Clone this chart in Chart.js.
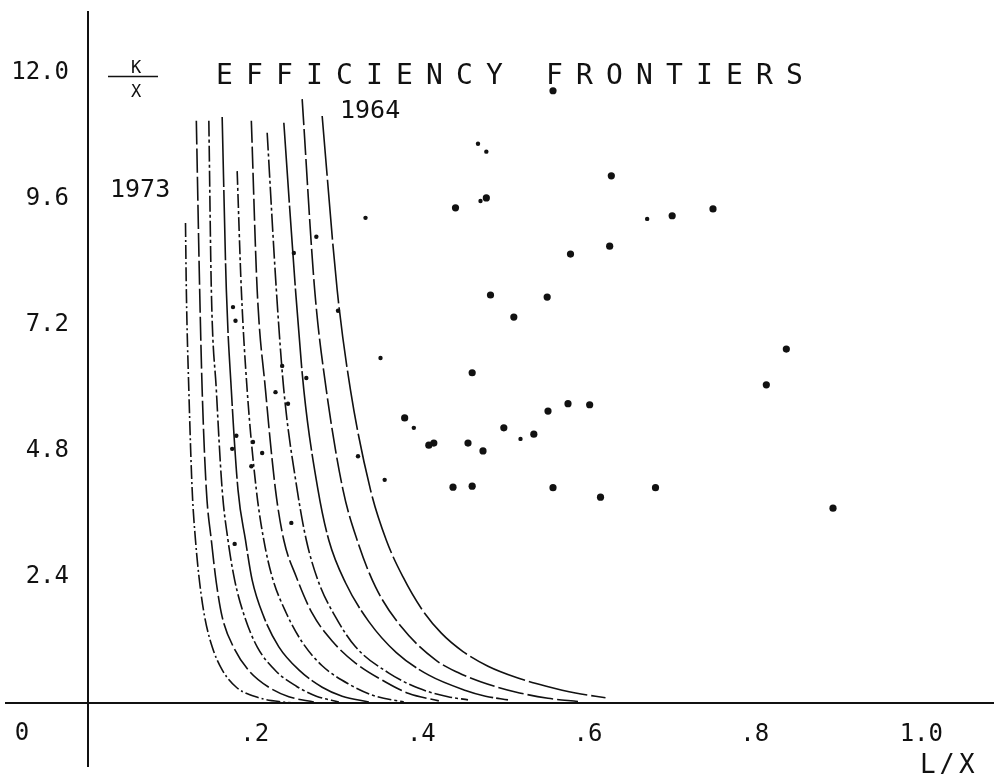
<!DOCTYPE html>
<html>
<head>
<meta charset="utf-8">
<script src="https://cdn.jsdelivr.net/npm/chart.js@4.4.1/dist/chart.umd.min.js"></script>
<style>
  html, body { margin: 0; padding: 0; background: #fff; }
  canvas { display: block; }
</style>
</head>
<body>
<canvas id="frontiers" width="997" height="774"></canvas>
<script>
// ejes
const xTicks = [0.2, 0.4, 0.6, 0.8, 1.0];
const xTickLabels = ['.2', '.4', '.6', '.8', '1.0'];
const yTicks = [2.4, 4.8, 7.2, 9.6, 12.0];
const yTickLabels = ['2.4', '4.8', '7.2', '9.6', '12.0'];

// fronteras de eficiencia (L/X, K/X), de afuera (1964) hacia adentro (1973)
const years = [1964, 1965, 1966, 1967, 1968, 1969, 1970, 1971, 1972, 1973];
const f1964 = [[0.281,11.18],[0.299,7.87],[0.315,5.96],[0.339,4.06],[0.358,3.10],[0.378,2.40],[0.400,1.80],[0.424,1.33],[0.450,0.98],[0.480,0.70],[0.515,0.48],[0.550,0.32],[0.585,0.19],[0.621,0.10]];
const f1965 = [[0.257,11.50],[0.272,7.87],[0.286,5.96],[0.306,4.06],[0.323,3.10],[0.345,2.21],[0.376,1.45],[0.417,0.82],[0.444,0.58],[0.472,0.40],[0.513,0.21],[0.552,0.09],[0.588,0.03]];
const f1966 = [[0.235,11.05],[0.249,7.87],[0.259,5.96],[0.276,4.06],[0.289,3.10],[0.309,2.29],[0.337,1.55],[0.370,0.96],[0.409,0.53],[0.453,0.24],[0.477,0.13],[0.504,0.06]];
const f1967 = [[0.215,10.86],[0.226,7.87],[0.235,5.96],[0.251,4.06],[0.262,3.10],[0.277,2.29],[0.297,1.64],[0.321,1.07],[0.361,0.57],[0.397,0.28],[0.432,0.12],[0.456,0.06]];
const f1968 = [[0.196,11.09],[0.203,7.87],[0.213,5.96],[0.225,4.06],[0.235,3.10],[0.250,2.40],[0.269,1.71],[0.293,1.18],[0.321,0.76],[0.357,0.40],[0.385,0.18],[0.421,0.04]];
const f1969 = [[0.179,10.13],[0.184,7.87],[0.191,5.96],[0.202,4.06],[0.211,3.10],[0.221,2.40],[0.238,1.71],[0.257,1.16],[0.281,0.71],[0.313,0.36],[0.345,0.13],[0.379,0.02]];
const f1970 = [[0.161,11.16],[0.166,7.87],[0.172,5.96],[0.180,4.06],[0.189,3.10],[0.197,2.34],[0.211,1.64],[0.229,1.07],[0.253,0.63],[0.281,0.30],[0.305,0.13],[0.337,0.02]];
const f1971 = [[0.145,11.09],[0.148,7.87],[0.154,5.96],[0.161,4.06],[0.168,3.10],[0.176,2.34],[0.188,1.64],[0.203,1.07],[0.226,0.60],[0.250,0.32],[0.274,0.13],[0.301,0.02]];
const f1972 = [[0.130,11.09],[0.134,7.87],[0.137,5.96],[0.142,4.06],[0.148,3.10],[0.154,2.29],[0.161,1.64],[0.176,1.02],[0.194,0.60],[0.217,0.30],[0.241,0.12],[0.271,0.02]];
const f1973 = [[0.117,9.14],[0.118,7.87],[0.121,5.96],[0.125,4.06],[0.129,3.10],[0.134,2.29],[0.140,1.64],[0.149,1.07],[0.161,0.63],[0.178,0.30],[0.205,0.10],[0.233,0.02],[0.250,0.0]];
const frontiers = [f1964, f1965, f1966, f1967, f1968, f1969, f1970, f1971, f1972, f1973];

// observaciones: puntos grandes y marcas pequeñas
const obsBig = [[0.558,11.66],[0.628,10.04],[0.441,9.43],[0.478,9.62],[0.626,8.70],[0.579,8.55],[0.750,9.41],[0.701,9.28],
  [0.483,7.77],[0.551,7.73],[0.511,7.35],[0.838,6.74],[0.814,6.06],[0.461,6.29],[0.552,5.56],[0.576,5.70],[0.602,5.68],
  [0.499,5.24],[0.535,5.12],[0.380,5.43],[0.415,4.95],[0.409,4.91],[0.456,4.95],[0.474,4.80],[0.438,4.11],[0.461,4.13],
  [0.558,4.10],[0.615,3.92],[0.681,4.10],[0.894,3.71]];
const obsSmall = [[0.468,10.65],[0.478,10.50],[0.471,9.56],[0.333,9.24],[0.274,8.88],[0.671,9.22],[0.300,7.47],[0.247,8.57],
  [0.351,6.57],[0.391,5.24],[0.519,5.03],[0.324,4.70],[0.356,4.25],[0.174,7.54],[0.177,7.28],[0.233,6.42],[0.262,6.19],
  [0.225,5.92],[0.240,5.70],[0.178,5.09],[0.173,4.84],[0.198,4.97],[0.209,4.76],[0.196,4.51],[0.244,3.43],[0.176,3.03]];

// trazos del plotter: largos arriba, más cortados en la cola
const dashes = [[60, 4], [26, 4], [80, 3], [18, 3, 3, 3], [22, 4], [14, 3, 3, 3], [70, 3], [16, 3, 3, 3], [24, 4], [14, 3, 2, 3]];
const mono = 'DejaVu Sans Mono';
const ink = '#111';

const toPts = arr => arr.map(p => ({ x: p[0], y: p[1] }));

const datasets = frontiers.map((f, i) => ({
    type: 'line',
    label: String(years[i]),
    data: toPts(f),
    borderColor: ink,
    borderWidth: 1.6,
    borderDash: dashes[i],
    pointRadius: 0,
    fill: false,
    cubicInterpolationMode: 'monotone'
}));
datasets.push({ label: 'obs', data: toPts(obsBig), backgroundColor: ink, borderWidth: 0, pointRadius: 3.6 });
datasets.push({ label: 'obs2', data: toPts(obsSmall), backgroundColor: ink, borderWidth: 0, pointRadius: 2.2 });

// textos y prolongación de los ejes
const decor = {
    id: 'decor',
    afterDraw(chart) {
        const c = chart.ctx;
        const x0 = chart.scales.x.getPixelForValue(0);
        const y0 = chart.scales.y.getPixelForValue(0);
        c.save();
        c.strokeStyle = ink;
        c.lineWidth = 2;
        c.beginPath();
        c.moveTo(5, y0); c.lineTo(x0, y0);
        c.moveTo(x0, y0); c.lineTo(x0, 767);
        c.stroke();

        c.fillStyle = ink;
        c.textBaseline = 'alphabetic';
        // título, letra por letra
        c.font = '28px ' + mono;
        c.textAlign = 'left';
        const title = 'EFFICIENCY FRONTIERS';
        for (let i = 0; i < title.length; i++) {
            c.fillText(title[i], 216 + 30 * i, 84);
        }
        // K/X
        c.font = '17px ' + mono;
        c.textAlign = 'center';
        c.fillText('K', 136, 73);
        c.fillText('X', 136, 97);
        c.lineWidth = 1.5;
        c.beginPath();
        c.moveTo(108, 76.5); c.lineTo(158, 76.5);
        c.stroke();
        // años
        c.font = '25px ' + mono;
        c.textAlign = 'left';
        c.fillText('1964', 340, 118);
        c.fillText('1973', 110, 197);
        c.textAlign = 'center';
        c.font = '24px ' + mono;
        c.fillText('0', 22, 740);
        // L/X
        c.font = '26px ' + mono;
        c.textAlign = 'left';
        c.fillText('L', 920, 773);
        c.fillText('/', 939, 773);
        c.fillText('X', 959, 773);
        c.restore();
    }
};

const ctx = document.getElementById('frontiers').getContext('2d');
new Chart(ctx, {
    type: 'scatter',
    data: { datasets: datasets },
    options: {
        responsive: false,
        animation: false,
        layout: { padding: { top: 12, right: 0, left: 0, bottom: 0 } },
        plugins: { legend: { display: false }, tooltip: { enabled: false } },
        scales: {
            x: {
                type: 'linear',
                min: 0,
                max: 1.086,
                afterBuildTicks: s => { s.ticks = xTicks.map(v => ({ value: v })); },
                afterFit: s => { s.height = 71; s.paddingLeft = 0; s.paddingRight = 0; },
                grid: { display: false, drawTicks: false },
                border: { display: true, color: ink, width: 2 },
                ticks: {
                    autoSkip: false,
                    maxRotation: 0,
                    padding: 17,
                    color: ink,
                    font: { family: mono, size: 24 },
                    callback: (v, i) => xTickLabels[i]
                }
            },
            y: {
                type: 'linear',
                min: 0,
                max: 13.16,
                afterBuildTicks: s => { s.ticks = yTicks.map(v => ({ value: v })); },
                afterFit: s => { s.width = 88; s.paddingTop = 0; s.paddingBottom = 0; },
                grid: { display: false, drawTicks: false },
                border: { display: true, color: ink, width: 2 },
                ticks: {
                    autoSkip: false,
                    padding: 19,
                    color: ink,
                    font: { family: mono, size: 24 },
                    callback: (v, i) => yTickLabels[i]
                }
            }
        }
    },
    plugins: [decor]
});
</script>
</body>
</html>
